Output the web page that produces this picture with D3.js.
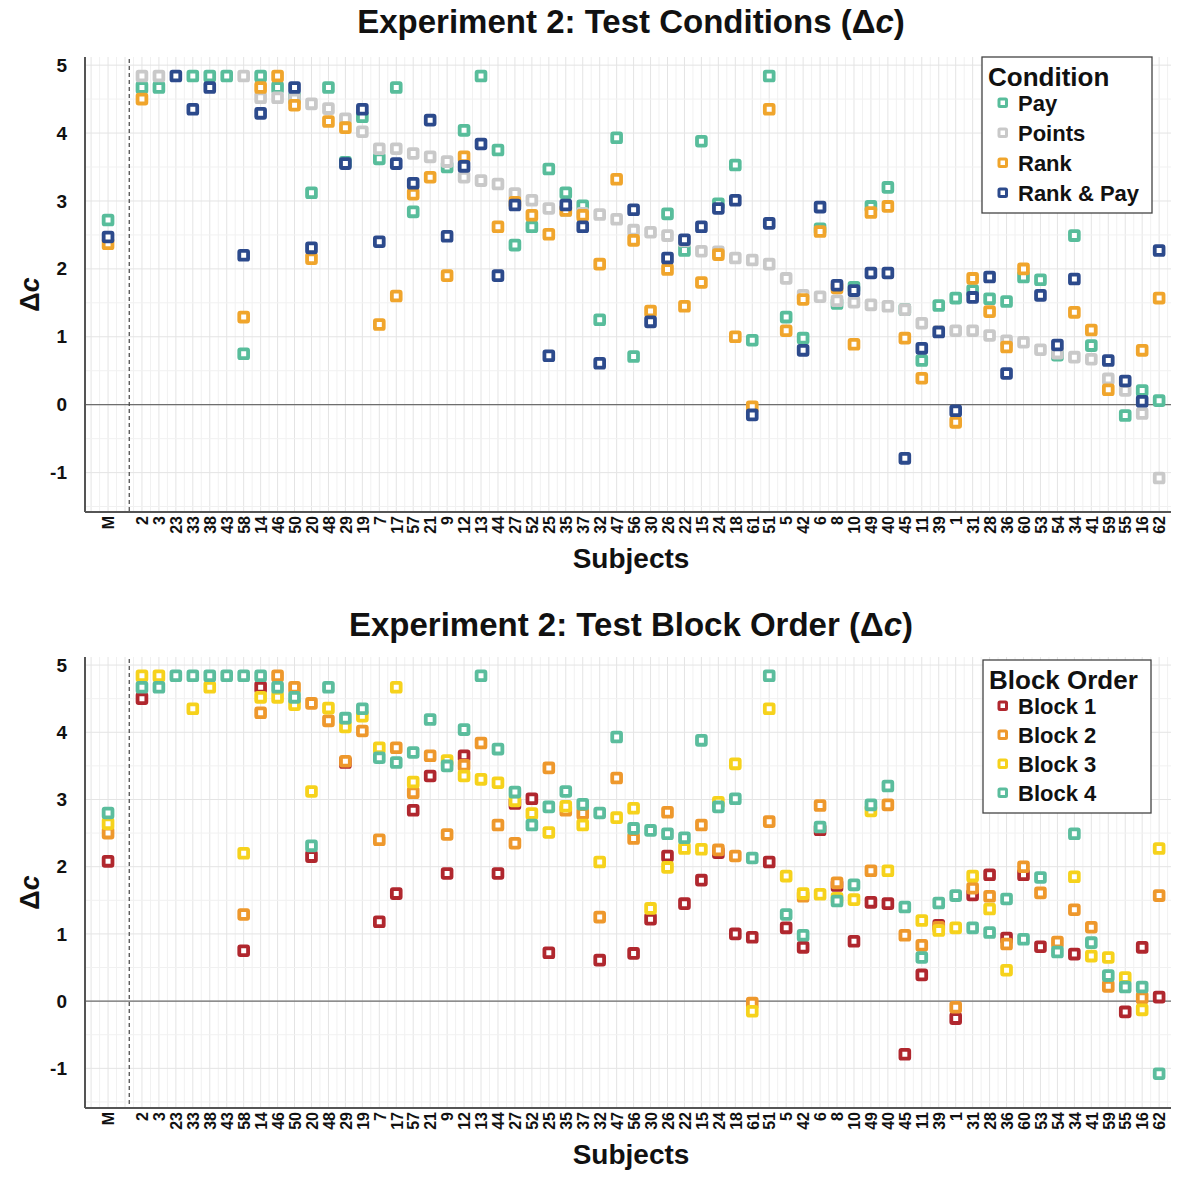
<!DOCTYPE html>
<html>
<head>
<meta charset="utf-8">
<script src="https://cdn.jsdelivr.net/npm/d3@7"></script>
<style>
  body { margin: 0; background: #fff; font-family: "Liberation Sans", Arial, sans-serif; }
  text { font-family: "Liberation Sans", Arial, sans-serif; font-weight: bold; fill: #111; }
</style>
</head>
<body>
<script>
const subjects = ["M","2","3","23","33","38","43","58","14","46","50","20","48","29","19","7","17","57","21","9","12","13","44","27","52","25","35","37","32","47","56","30","26","22","15","24","18","61","51","5","42","6","8","10","49","40","45","11","39","1","31","28","36","60","53","54","34","41","59","55","16","62"];

// top panel: by condition (null = not visible in the figure)
const pay = [2.72,4.67,4.67,null,4.84,4.84,4.84,0.75,4.84,4.67,4.52,3.12,4.67,3.57,4.24,3.62,4.67,2.84,null,3.50,4.04,4.84,3.75,2.35,2.62,3.47,3.12,2.93,1.25,3.93,0.71,null,2.81,2.27,3.88,2.96,3.53,0.95,4.84,1.29,0.98,2.59,1.49,1.73,2.92,3.20,1.40,0.65,1.46,1.57,1.68,1.56,1.52,1.88,1.84,0.73,2.49,0.87,null,-0.16,0.21,0.06];
const points = [null,4.84,4.84,null,null,null,null,4.84,4.52,4.52,4.50,4.43,4.36,4.21,4.02,3.77,3.77,3.70,3.65,3.58,3.35,3.30,3.25,3.11,3.01,2.89,2.86,2.82,2.80,2.73,2.57,2.54,2.49,2.41,2.26,2.25,2.16,2.13,2.07,1.86,1.61,1.59,1.53,1.51,1.47,1.45,1.40,1.20,1.08,1.09,1.09,1.02,0.94,0.92,0.81,0.76,0.70,0.67,0.38,0.21,-0.13,-1.08];
const rank = [2.37,4.50,null,null,null,null,null,1.29,4.67,4.84,4.41,2.15,4.17,4.08,null,1.18,1.60,3.10,3.35,1.90,3.65,null,2.62,2.98,2.79,2.51,2.86,2.79,2.07,3.32,2.42,1.38,1.99,1.45,1.80,2.21,1.00,-0.03,4.35,1.09,1.55,2.55,1.72,0.89,2.83,2.92,0.98,0.39,null,-0.26,1.86,1.37,0.85,2.00,null,null,1.36,1.10,0.22,null,0.80,1.57];
const rankPay = [2.47,null,null,4.84,4.35,4.67,null,2.20,4.29,null,4.67,2.31,null,3.55,4.35,2.40,3.55,3.26,4.19,2.48,3.51,3.84,1.90,2.94,null,0.72,2.94,2.62,0.61,null,2.87,1.22,2.16,2.43,2.62,2.89,3.01,-0.15,2.67,null,0.80,2.91,1.76,1.68,1.94,1.94,-0.79,0.83,1.07,-0.09,1.58,1.88,0.46,null,1.61,0.88,1.85,null,0.65,0.35,0.05,2.27];

// bottom panel: by block order
const block1 = [2.08,4.50,null,null,null,null,null,0.75,4.67,null,null,2.15,null,3.55,null,1.18,1.60,2.84,3.35,1.90,3.65,null,1.90,2.94,3.01,0.72,null,null,0.61,null,0.71,1.22,2.16,1.45,1.80,2.21,1.00,0.95,2.07,1.09,0.80,2.55,1.72,0.89,1.47,1.45,-0.79,0.39,1.13,-0.26,1.58,1.88,0.94,1.88,0.81,null,0.70,null,null,-0.16,0.80,0.06];
const block2 = [2.50,null,null,null,null,null,null,1.29,4.29,4.84,4.67,4.43,4.17,3.57,4.02,2.40,3.77,3.10,3.65,2.48,3.51,3.84,2.62,2.35,null,3.47,2.84,2.79,1.25,3.32,2.42,null,2.81,null,2.62,2.25,2.16,-0.03,2.67,null,1.56,2.91,1.76,null,1.94,2.92,0.98,0.83,1.10,-0.09,1.68,1.56,0.85,2.00,1.61,0.88,1.36,1.10,0.22,null,0.05,1.57];
const block3 = [2.64,4.84,4.84,null,4.35,4.67,null,2.20,4.52,4.52,4.41,3.12,4.36,4.08,4.24,3.77,4.67,3.26,null,3.58,3.35,3.30,3.25,2.98,2.79,2.51,2.90,2.62,2.07,2.73,2.87,1.38,1.99,2.27,2.26,2.96,3.53,-0.15,4.35,1.86,1.60,1.59,1.53,1.51,2.83,1.94,null,1.20,1.05,1.09,1.86,1.37,0.46,null,null,null,1.85,0.67,0.65,0.35,-0.13,2.27];
const block4 = [2.80,4.67,4.67,4.84,4.84,4.84,4.84,4.84,4.84,4.67,4.52,2.31,4.67,4.21,4.35,3.62,3.55,3.70,4.19,3.50,4.04,4.84,3.75,3.11,2.62,2.89,3.12,2.93,2.80,3.93,2.57,2.54,2.49,2.43,3.88,2.89,3.01,2.13,4.84,1.29,0.98,2.59,1.49,1.73,2.92,3.20,1.40,0.65,1.46,1.57,1.09,1.02,1.52,0.92,1.84,0.73,2.49,0.87,0.38,0.21,0.21,-1.08];

const yTicks = [-1, 0, 1, 2, 3, 4, 5];

const panels = [
  {
    title: "Experiment 2: Test Conditions (", titleY: 33, top: 57, bottom: 512, yDomain: [-1.58, 5.12],
    legendTitle: "Condition", legendBox: [982, 57, 170, 156], legendRows: [103, 133, 163, 193],
    series: [
      { name: "Points", values: points, color: "#c9c9c9", order: 1 },
      { name: "Pay", values: pay, color: "#58bd9b", order: 0 },
      { name: "Rank", values: rank, color: "#f0a52c", order: 2 },
      { name: "Rank & Pay", values: rankPay, color: "#2c4a8c", order: 3 }
    ]
  },
  {
    title: "Experiment 2: Test Block Order (", titleY: 636, top: 657, bottom: 1108, yDomain: [-1.59, 5.12],
    legendTitle: "Block Order", legendBox: [983, 660, 168, 153], legendRows: [706, 735, 764, 793],
    series: [
      { name: "Block 1", values: block1, color: "#b0272e", order: 0 },
      { name: "Block 2", values: block2, color: "#ee982c", order: 1 },
      { name: "Block 3", values: block3, color: "#f6d21c", order: 2 },
      { name: "Block 4", values: block4, color: "#5bbd9d", order: 3 }
    ]
  }
];

const width = 1177, height = 1179;
const svg = d3.select("body").append("svg").attr("width", width).attr("height", height);

// M sits at position 0, subjects from position 2 on
const pos = subjects.map((s, i) => (i === 0 ? 0 : i + 1));
const x = d3.scaleLinear().domain([-1.36, 62.7]).range([85, 1171]);

panels.forEach((p) => {
  const y = d3.scaleLinear().domain(p.yDomain).range([p.bottom, p.top]);
  const g = svg.append("g");

  // grid
  const vx = d3.range(-1, 63, 0.5);
  g.append("g").selectAll("line").data(vx).join("line")
    .attr("x1", (d) => x(d)).attr("x2", (d) => x(d))
    .attr("y1", p.top).attr("y2", p.bottom)
    .attr("stroke", (d) => (d % 1 === 0 ? "#e4e4e4" : "#f1f1f1")).attr("stroke-width", 1);
  const hy = d3.range(-1.5, 5.01, 0.5);
  g.append("g").selectAll("line").data(hy).join("line")
    .attr("x1", 85).attr("x2", 1171)
    .attr("y1", (d) => y(d)).attr("y2", (d) => y(d))
    .attr("stroke", (d) => (d % 1 === 0 ? "#e4e4e4" : "#f1f1f1")).attr("stroke-width", 1);

  // zero line and separator after the mean
  g.append("line").attr("x1", 85).attr("x2", 1171).attr("y1", y(0)).attr("y2", y(0))
    .attr("stroke", "#6e6e6e").attr("stroke-width", 1.3);
  g.append("line").attr("x1", x(1.25)).attr("x2", x(1.25)).attr("y1", p.top + 2).attr("y2", p.bottom)
    .attr("stroke", "#444").attr("stroke-width", 1.2).attr("stroke-dasharray", "4,3");

  // axes
  const yAxis = g.append("g").attr("transform", "translate(85,0)")
    .call(d3.axisLeft(y).tickValues(yTicks).tickSize(0).tickPadding(18).tickFormat((d) => String(d)));
  yAxis.select(".domain").attr("stroke", "#555").attr("stroke-width", 2).attr("d", `M0,${p.top}V${p.bottom}`);
  yAxis.selectAll("text").style("font-size", "19px").style("font-weight", "bold").attr("fill", "#111");

  const xAxis = g.append("g").attr("transform", `translate(0,${p.bottom})`)
    .call(d3.axisBottom(x).tickValues(pos).tickSize(0).tickFormat((d, i) => subjects[i]));
  xAxis.select(".domain").attr("stroke", "#555").attr("stroke-width", 2).attr("d", "M85,0H1171");
  xAxis.selectAll("text")
    .attr("transform", "rotate(-90)").attr("text-anchor", "end")
    .attr("x", -4).attr("y", 0).attr("dy", "0.36em")
    .style("font-size", "16px").style("font-weight", "bold").attr("fill", "#222");

  // titles
  const t = svg.append("text").attr("x", 631).attr("y", p.titleY).attr("text-anchor", "middle")
    .style("font-size", "33px");
  t.append("tspan").text(p.title + "\u0394");
  t.append("tspan").style("font-style", "italic").text("c");
  t.append("tspan").text(")");

  svg.append("text").attr("x", 631).attr("y", p.bottom + 56).attr("text-anchor", "middle")
    .style("font-size", "28px").text("Subjects");

  const yl = svg.append("text")
    .attr("transform", `translate(39,${(p.top + p.bottom) / 2 + 10}) rotate(-90)`)
    .attr("text-anchor", "middle").style("font-size", "27px");
  yl.append("tspan").text("\u0394");
  yl.append("tspan").style("font-style", "italic").text("c");

  // markers
  const drawOrder = p.series.slice().sort((a, b) => a.order - b.order);
  drawOrder.forEach((s) => {
    const pts = s.values.map((v, i) => ({ v, i })).filter((d) => d.v !== null);
    g.append("g").selectAll("rect").data(pts).join("rect")
      .attr("x", (d) => x(pos[d.i]) - 4.4).attr("y", (d) => y(d.v) - 4.4)
      .attr("width", 8.8).attr("height", 8.8).attr("rx", 1)
      .attr("fill", "#fff").attr("stroke", s.color).attr("stroke-width", 3.8);
  });

  // legend
  const [lx, ly, lw, lh] = p.legendBox;
  const lg = svg.append("g");
  lg.append("rect").attr("x", lx).attr("y", ly).attr("width", lw).attr("height", lh)
    .attr("fill", "#fff").attr("stroke", "#444").attr("stroke-width", 1.3);
  lg.append("text").attr("x", lx + 6).attr("y", ly + 29).style("font-size", "26px").text(p.legendTitle);
  p.series.slice().sort((a, b) => a.name.localeCompare(b.name)).forEach((s, i) => {
    const ry = p.legendRows[i];
    lg.append("rect").attr("x", 999).attr("y", ry - 4).attr("width", 7.5).attr("height", 7.5).attr("rx", 1)
      .attr("fill", "#fff").attr("stroke", s.color).attr("stroke-width", 3);
    lg.append("text").attr("x", 1018).attr("y", ry + 8).style("font-size", "22px").text(s.name);
  });
});
</script>
</body>
</html>
